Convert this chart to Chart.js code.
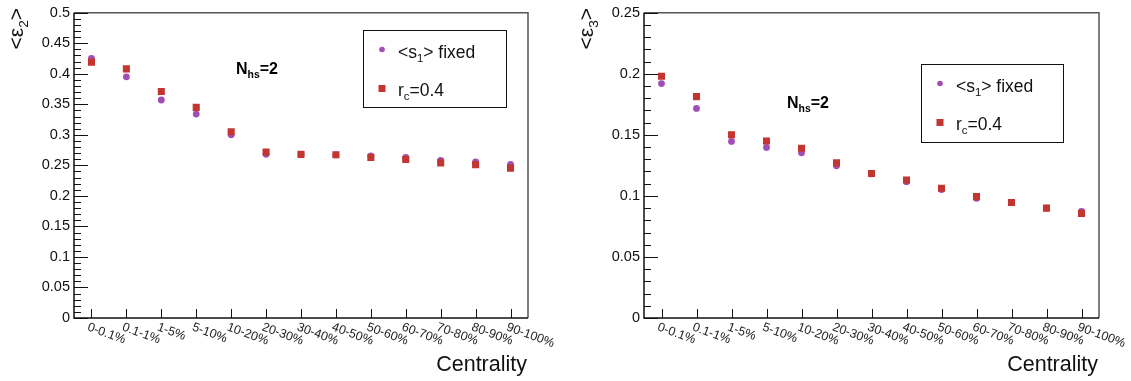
<!DOCTYPE html>
<html>
<head>
<meta charset="utf-8">
<script src="https://cdn.jsdelivr.net/npm/chart.js@4/dist/chart.umd.min.js"></script>
<style>
    body { margin: 0; background: #fff; }
    #wrap { position: relative; width: 1131px; height: 381px; background: #fff; }
    canvas { position: absolute; top: 0; }
</style>
</head>
<body>
<div id="wrap">
    <canvas id="eps2-chart" width="561" height="381" style="left:0"></canvas>
    <canvas id="eps3-chart" width="561" height="381" style="left:570px"></canvas>
</div>
<script>
// Centrality bins (x axis)
const categories = ['0-0.1%', '0.1-1%', '1-5%', '5-10%', '10-20%', '20-30%', '30-40%',
    '40-50%', '50-60%', '60-70%', '70-80%', '80-90%', '90-100%'];

// <eps2> values
const eps2S1Fixed = [0.425, 0.395, 0.357, 0.334, 0.300, 0.268, 0.268, 0.267, 0.2655, 0.263, 0.258, 0.2555, 0.2515];
const eps2Rc04 = [0.419, 0.408, 0.371, 0.345, 0.305, 0.272, 0.268, 0.2675, 0.263, 0.2595, 0.254, 0.251, 0.2455];

// <eps3> values
const eps3S1Fixed = [0.192, 0.1716, 0.1446, 0.1397, 0.1353, 0.1246, 0.118, 0.1116, 0.1052, 0.098, 0.0945, 0.090, 0.0873];
const eps3Rc04 = [0.198, 0.1813, 0.150, 0.145, 0.139, 0.127, 0.1183, 0.113, 0.1062, 0.0994, 0.0946, 0.090, 0.0857];

// y axis ranges / tick steps
const eps2Range = [0, 0.5];
const eps3Range = [0, 0.25];
const majorStep = 0.05;
const minorStep = 0.01;

const FONT = "'Liberation Sans', Arial, Helvetica, sans-serif";
const PURPLE = '#a04db4';
const RED = '#c23530';

function toPoints(values) {
    return values.map((v, i) => ({ x: i, y: v }));
}

// draw a text made of pieces with optional subscripts, returns end x
function drawPieces(ctx, pieces, x, y, size, bold) {
    pieces.forEach(p => {
        const s = p.sub ? size * 0.65 : size;
        ctx.font = (bold ? 'bold ' : '') + s + 'px ' + FONT;
        ctx.fillText(p.t, x, y + (p.sub ? size * 0.25 : 0));
        x += ctx.measureText(p.t).width;
    });
    return x;
}

function piecesWidth(ctx, pieces, size, bold) {
    let w = 0;
    pieces.forEach(p => {
        const s = p.sub ? size * 0.65 : size;
        ctx.font = (bold ? 'bold ' : '') + s + 'px ' + FONT;
        w += ctx.measureText(p.t).width;
    });
    return w;
}

// ROOT-like frame, ticks, labels, legend
const rootFramePlugin = {
    id: 'rootFrame',
    afterDraw(chart, args, opts) {
        const ctx = chart.ctx;
        const area = chart.chartArea;
        const xs = chart.scales.x;
        const ys = chart.scales.y;
        ctx.save();

        // frame
        ctx.lineWidth = 1.5;
        ctx.strokeStyle = '#555';
        ctx.beginPath();
        ctx.moveTo(area.left, area.top);
        ctx.lineTo(area.right, area.top);
        ctx.lineTo(area.right, area.bottom);
        ctx.stroke();
        ctx.strokeStyle = '#111';
        ctx.beginPath();
        ctx.moveTo(area.left, area.top);
        ctx.lineTo(area.left, area.bottom);
        ctx.lineTo(area.right, area.bottom);
        ctx.stroke();

        // y ticks (inside)
        ctx.lineWidth = 1;
        const nMinor = Math.round(ys.max / minorStep);
        const perMajor = Math.round(majorStep / minorStep);
        ctx.beginPath();
        for (let k = 0; k <= nMinor; k++) {
            const y = Math.round(ys.getPixelForValue(k * minorStep)) + 0.5;
            const len = k % perMajor === 0 ? 14 : 7;
            ctx.moveTo(area.left, y);
            ctx.lineTo(area.left + len, y);
        }
        // x ticks (inside)
        categories.forEach((c, i) => {
            const x = Math.round(xs.getPixelForValue(i)) + 0.5;
            ctx.moveTo(x, area.bottom);
            ctx.lineTo(x, area.bottom - 9);
        });
        ctx.stroke();

        // x tick labels, slanted
        ctx.fillStyle = '#222';
        ctx.font = '12.5px ' + FONT;
        ctx.textAlign = 'left';
        ctx.textBaseline = 'top';
        categories.forEach((c, i) => {
            ctx.save();
            ctx.translate(xs.getPixelForValue(i) - 1.5, area.bottom + 3);
            ctx.rotate(20 * Math.PI / 180);
            ctx.fillText(c, 0, 0);
            ctx.restore();
        });

        // x title
        ctx.fillStyle = '#111';
        ctx.textBaseline = 'alphabetic';
        ctx.textAlign = 'right';
        ctx.font = '21.5px ' + FONT;
        ctx.fillText('Centrality', area.right - 1, 371);

        // y title, rotated
        ctx.textAlign = 'left';
        const yTitle = [{ t: '<ε' }, { t: opts.harmonic, sub: true }, { t: '>' }];
        const tw = piecesWidth(ctx, yTitle, 21, false);
        ctx.save();
        ctx.translate(23, 8);
        ctx.rotate(-Math.PI / 2);
        drawPieces(ctx, yTitle, -tw, 0, 21, false);
        ctx.restore();

        // N_hs label
        ctx.fillStyle = '#000';
        drawPieces(ctx, [{ t: 'N' }, { t: 'hs', sub: true }, { t: '=2' }],
            opts.nhs[0], opts.nhs[1], 16, true);

        // legend box
        const lg = opts.legend;
        ctx.fillStyle = '#fff';
        ctx.fillRect(lg.x, lg.y, lg.w, lg.h);
        ctx.strokeStyle = '#111';
        ctx.lineWidth = 1;
        ctx.strokeRect(lg.x + 0.5, lg.y + 0.5, lg.w, lg.h);

        const ds = chart.data.datasets;
        const rowY = [lg.y + 19.5, lg.y + 58.5];
        const mx = lg.x + 19;
        // circle marker
        ctx.fillStyle = ds[0].backgroundColor;
        ctx.beginPath();
        ctx.arc(mx, rowY[0], 2.8, 0, Math.PI * 2);
        ctx.fill();
        // square marker
        ctx.fillStyle = ds[1].backgroundColor;
        ctx.fillRect(mx - 3.5, rowY[1] - 3.5, 7, 7);

        ctx.fillStyle = '#111';
        drawPieces(ctx, [{ t: '<s' }, { t: '1', sub: true }, { t: '> fixed' }], lg.x + 35, rowY[0] + 8.5, 17.5, false);
        drawPieces(ctx, [{ t: 'r' }, { t: 'c', sub: true }, { t: '=0.4' }], lg.x + 35, rowY[1] + 7.5, 17.5, false);

        ctx.restore();
    }
};

function buildChart(canvasId, circleValues, squareValues, range, extra) {
    const ctx = document.getElementById(canvasId).getContext('2d');
    return new Chart(ctx, {
        type: 'scatter',
        data: {
            datasets: [{
                label: '<s1> fixed',
                data: toPoints(circleValues),
                pointStyle: 'circle',
                pointRadius: 3.4,
                pointBorderWidth: 0,
                backgroundColor: PURPLE,
                borderColor: PURPLE,
                order: 2
            }, {
                label: 'rc=0.4',
                data: toPoints(squareValues),
                pointStyle: 'rect',
                pointRadius: 5,
                pointBorderWidth: 0,
                backgroundColor: RED,
                borderColor: RED,
                order: 1
            }]
        },
        options: {
            responsive: false,
            animation: false,
            layout: { padding: { top: 10, right: extra.padRight, left: 0, bottom: 0 } },
            scales: {
                x: {
                    type: 'linear',
                    min: -0.5,
                    max: 12.5,
                    grid: { display: false, drawTicks: false },
                    border: { display: false },
                    ticks: { display: false },
                    afterFit: s => { s.height = 63; }
                },
                y: {
                    min: range[0],
                    max: range[1],
                    grid: { display: false, drawTicks: false },
                    border: { display: false },
                    ticks: {
                        stepSize: majorStep,
                        padding: 4,
                        color: '#111',
                        font: { family: FONT, size: 14.5 },
                        callback: v => String(+v.toFixed(2))
                    },
                    afterFit: s => { s.width = 74; }
                }
            },
            plugins: {
                legend: { display: false },
                tooltip: { enabled: false },
                rootFrame: extra
            }
        },
        plugins: [rootFramePlugin]
    });
}

document.addEventListener('DOMContentLoaded', function() {
    buildChart('eps2-chart', eps2S1Fixed, eps2Rc04, eps2Range, {
        harmonic: '2',
        padRight: 33,
        nhs: [236, 73.5],
        legend: { x: 363, y: 30, w: 143, h: 77 }
    });
    buildChart('eps3-chart', eps3S1Fixed, eps3Rc04, eps3Range, {
        harmonic: '3',
        padRight: 32,
        nhs: [217, 108],
        legend: { x: 351, y: 64, w: 142, h: 78 }
    });
});
</script>
</body>
</html>
